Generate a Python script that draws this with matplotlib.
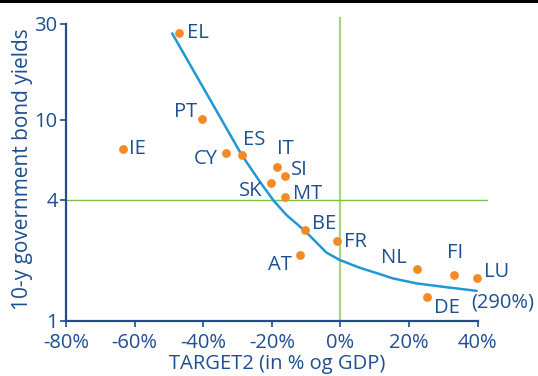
import numpy as np
import matplotlib.pyplot as plt
from matplotlib.patches import Rectangle

# TARGET2 balance (% of GDP) vs 10-y government bond yields (%)
countries = ["EL", "PT", "IE", "CY", "ES", "IT", "SI", "SK", "MT",
             "BE", "FR", "AT", "NL", "FI", "LU", "DE"]
target2 = [-47.1, -40.4, -63.4, -33.4, -28.7, -18.5, -16.2, -20.3, -16.2,
           -10.4, -1.1, -11.8, 22.2, 33.0, 39.7, 25.2]
yields = [27.1, 10.1, 7.2, 6.85, 6.7, 5.84, 5.27, 4.86, 4.14,
          2.84, 2.50, 2.13, 1.81, 1.69, 1.64, 1.32]

# fitted curve read along its path
fit_x = [-49.2, -28.8, -23.5, -19.4, -15.7, -10.4, -4.1, -0.2, 5.6, 11.5, 15.2, 22.0, 29.8, 40.0]
fit_y = [27.2, 6.70, 4.93, 3.95, 3.36, 2.81, 2.19, 2.01, 1.84, 1.71, 1.63, 1.54, 1.48, 1.41]

xticks = [-80, -60, -40, -20, 0, 20, 40]
xticklabels = ["-80%", "-60%", "-40%", "-20%", "0%", "20%", "40%"]
yticks = [1, 4, 10, 30]

# label offsets in points (dx, dy, ha)
label_pos = {
    "EL": (6, 0, "left"), "PT": (-3, 5, "right"), "IE": (4, 0, "left"),
    "CY": (-6, -4, "right"), "ES": (1, 11, "left"), "IT": (0, 13, "left"),
    "SI": (4, 4, "left"), "SK": (-6, -6, "right"), "MT": (6, 2, "left"),
    "BE": (5, 4, "left"), "FR": (5, -1, "left"), "AT": (-6, -7, "right"),
    "NL": (-7, 8, "right"), "FI": (1, 16, "center"), "LU": (5, 4, "left"),
    "DE": (5, -8, "left"),
}

blue = "#1d4f91"
orange = "#f58a25"
curve_col = "#1f98d5"
fs = 14.5

plt.rcParams["font.family"] = ["Open Sans", "DejaVu Sans"]

fig = plt.figure(figsize=(5.38, 3.76), dpi=100)
ax = fig.add_axes([0.1227, 0.1463, 0.7844, 0.8085])

ax.set_yscale("log")
ax.set_xlim(-80, 43)
ax.set_ylim(1, 32.5)

ax.axvline(0, color="#a8d47e", lw=1.6, zorder=1)
ax.axhline(4, color="#7cc242", lw=1.0, zorder=1)

ax.plot(fit_x, fit_y, color=curve_col, lw=1.8, zorder=2, solid_capstyle="butt")
ax.scatter(target2, yields, s=40, color=orange, zorder=3, linewidths=0)

for c, x, y in zip(countries, target2, yields):
    dx, dy, ha = label_pos[c]
    ax.annotate(c, (x, y), xytext=(dx, dy), textcoords="offset points",
                ha=ha, va="center", fontsize=fs, color=blue)
ax.annotate("(290%)", (target2[14], yields[14]), xytext=(-4, -18),
            textcoords="offset points", ha="left", va="center",
            fontsize=fs, color=blue)

for s in ["top", "right"]:
    ax.spines[s].set_visible(False)
for s in ["left", "bottom"]:
    ax.spines[s].set_color(blue)
    ax.spines[s].set_linewidth(1.6)
ax.spines["bottom"].set_bounds(-80, 40)
ax.spines["left"].set_bounds(1, 30)

ax.set_xticks(xticks)
ax.set_xticklabels(xticklabels)
ax.set_yticks(yticks)
ax.set_yticklabels([str(t) for t in yticks])
ax.yaxis.set_minor_locator(plt.NullLocator())
ax.tick_params(colors=blue, labelsize=fs, width=1.2, length=4)
ax.tick_params(axis="x", pad=5)
ax.tick_params(axis="y", pad=2)

ax.set_xlabel("TARGET2 (in % og GDP)", fontsize=fs, color=blue, labelpad=0.5)
ax.set_ylabel("10-y government bond yields", fontsize=15, color=blue, labelpad=1)

fig.add_artist(Rectangle((0, 0.992), 1, 0.008, transform=fig.transFigure,
                         color="black", lw=0))

fig.savefig("out.png", dpi=100)
